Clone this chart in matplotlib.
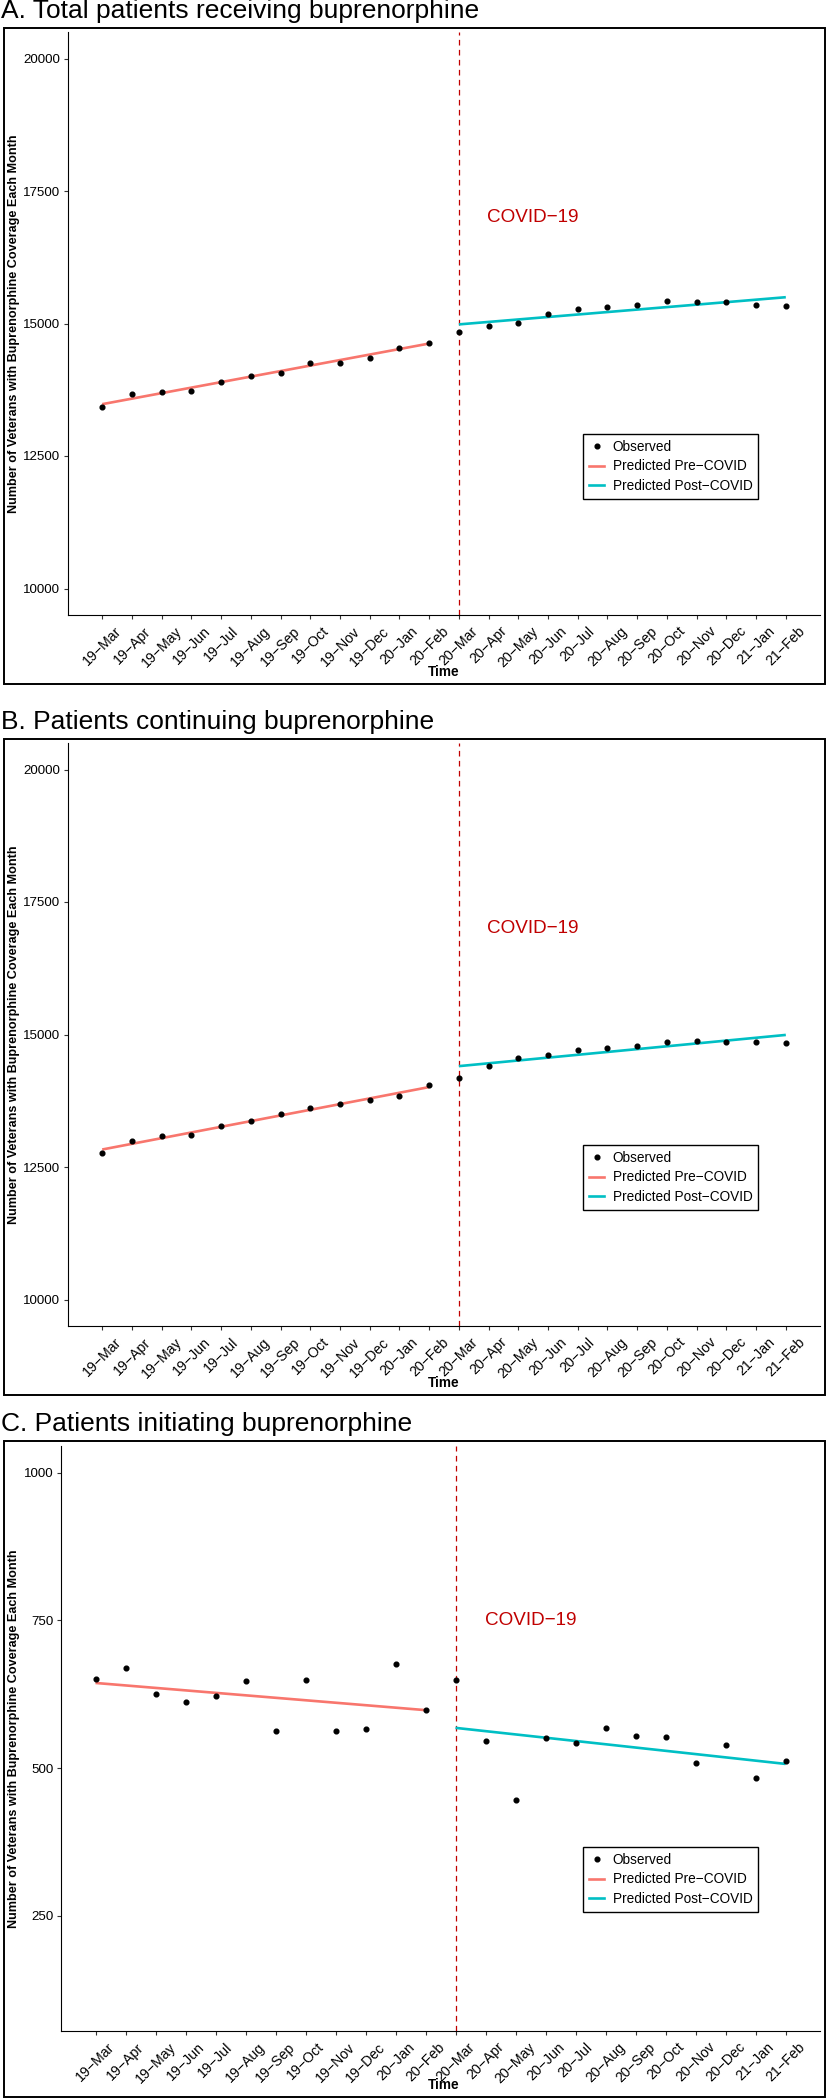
import numpy as np
import matplotlib.pyplot as plt
from matplotlib.patches import Rectangle
from matplotlib.lines import Line2D

plt.rcParams['font.family'] = ['Liberation Sans', 'DejaVu Sans']

# --- data ---
months = ['19−Mar', '19−Apr', '19−May', '19−Jun', '19−Jul', '19−Aug',
          '19−Sep', '19−Oct', '19−Nov', '19−Dec', '20−Jan', '20−Feb',
          '20−Mar', '20−Apr', '20−May', '20−Jun', '20−Jul', '20−Aug',
          '20−Sep', '20−Oct', '20−Nov', '20−Dec', '21−Jan', '21−Feb']
covid_start = 13  # 20-Mar

total_obs = [13427, 13663, 13713, 13730, 13890, 14016, 14066, 14260, 14251, 14352, 14537, 14638,
             14849, 14958, 15008, 15177, 15269, 15320, 15345, 15420, 15404, 15404, 15353, 15336]
total_pre = [13478, 14622]    # fitted at 19-Mar and 20-Feb
total_post = [14983, 15496]   # fitted at 20-Mar and 21-Feb

cont_obs = [12771, 12990, 13083, 13108, 13268, 13360, 13503, 13604, 13688, 13772, 13848, 14041,
            14184, 14403, 14563, 14622, 14714, 14739, 14790, 14865, 14882, 14857, 14865, 14832]
cont_pre = [12830, 14008]
cont_post = [14403, 14992]

init_obs = [650, 670, 626, 611, 622, 648, 563, 649, 563, 566, 676, 598,
            649, 545, 446, 551, 542, 568, 555, 552, 509, 539, 484, 512]
init_pre = [644, 598]
init_post = [568, 507]

titles = ['A. Total patients receiving buprenorphine',
          'B. Patients continuing buprenorphine',
          'C. Patients initiating buprenorphine']
ylims = [(10000, 20000), (10000, 20000), (100, 1000)]
yticks = [[10000, 12500, 15000, 17500, 20000],
          [10000, 12500, 15000, 17500, 20000],
          [250, 500, 750, 1000]]
covid_label_y = [17000, 17000, 750]

PRE_COL = '#F8766D'
POST_COL = '#00BFC4'
RED = '#C00000'

W, H = 827, 2100
fig = plt.figure(figsize=(W / 100, H / 100), dpi=100)

# pixel layout of each panel: box top, axes left, axes top, axes bottom
box_tops = [28, 739, 1441]
ax_lefts = [68, 68, 61]
ax_tops = [32, 743, 1446]
ax_bottoms = [615, 1326, 2031]
AX_RIGHT = 820

panels = [(total_obs, total_pre, total_post),
          (cont_obs, cont_pre, cont_post),
          (init_obs, init_pre, init_post)]

t = np.arange(1, len(months) + 1)

for i, (obs, pre, post) in enumerate(panels):
    bt = box_tops[i]
    # outer frame and title
    fig.patches.append(Rectangle((3.5 / W, 1 - (bt + 656) / H), 821.5 / W, 656 / H,
                                 transform=fig.transFigure, fill=False,
                                 edgecolor='black', linewidth=1.4))
    fig.text(1 / W, 1 - (bt - 10) / H, titles[i], fontsize=19, ha='left',
             va='baseline', color='black')

    l, tp, b = ax_lefts[i], ax_tops[i], ax_bottoms[i]
    ax = fig.add_axes([l / W, 1 - b / H, (AX_RIGHT - l) / W, (b - tp) / H])

    lo, hi = ylims[i]
    pad = (hi - lo) * 0.05
    ax.set_ylim(lo - pad, hi + pad)
    ax.set_xlim(1 - 23 * 0.05, 24 + 23 * 0.05)

    ax.axvline(covid_start, color=RED, linewidth=0.9, linestyle=(0, (4.5, 3.5)), zorder=1)
    ax.plot([1, covid_start - 1], pre, color=PRE_COL, linewidth=1.9, zorder=2,
            solid_capstyle='butt')
    ax.plot([covid_start, len(months)], post, color=POST_COL, linewidth=1.9, zorder=2,
            solid_capstyle='butt')
    ax.plot(t, obs, 'o', color='black', markersize=3.4, zorder=3)
    ax.text(15.5, covid_label_y[i], 'COVID−19', color=RED, fontsize=13.6,
            ha='center', va='center')

    ax.set_xticks(t)
    ax.set_xticklabels(months, rotation=45, ha='center', va='top', fontsize=10.2)
    ax.set_yticks(yticks[i])
    ax.set_yticklabels([str(v) for v in yticks[i]], fontsize=9.6)
    ax.tick_params(axis='both', length=3, width=0.8, color='#333333', pad=2.5,
                   labelcolor='black')
    ax.tick_params(axis='x', pad=3.5)
    for s in ['top', 'right']:
        ax.spines[s].set_visible(False)
    for s in ['left', 'bottom']:
        ax.spines[s].set_linewidth(0.8)
        ax.spines[s].set_color('black')

    ax.set_xlabel('Time', fontsize=9.8, fontweight='bold')
    ax.xaxis.set_label_coords(444 / W, 1 - (bt + 644) / H, transform=fig.transFigure)
    ax.xaxis.label.set_va('center')
    ax.set_ylabel('Number of Veterans with Buprenorphine Coverage Each Month',
                  fontsize=9.1, fontweight='bold')
    ax.yaxis.set_label_coords(14 / W, 1 - ((tp + b) / 2) / H, transform=fig.transFigure)
    ax.yaxis.label.set_va('center')

    handles = [Line2D([], [], marker='o', linestyle='none', color='black', markersize=3.4),
               Line2D([], [], color=PRE_COL, linewidth=1.9),
               Line2D([], [], color=POST_COL, linewidth=1.9)]
    leg = ax.legend(handles, ['Observed', 'Predicted Pre−COVID', 'Predicted Post−COVID'],
                    loc='upper left', bbox_to_anchor=(583 / W, 1 - (bt + 406) / H),
                    bbox_transform=fig.transFigure, borderaxespad=0, fontsize=9.8,
                    handlelength=1.15, handletextpad=0.6, labelspacing=0.42,
                    borderpad=0.42, fancybox=False, framealpha=1, edgecolor='black')
    leg.get_frame().set_linewidth(1.0)

fig.savefig('out.png', dpi=100)
